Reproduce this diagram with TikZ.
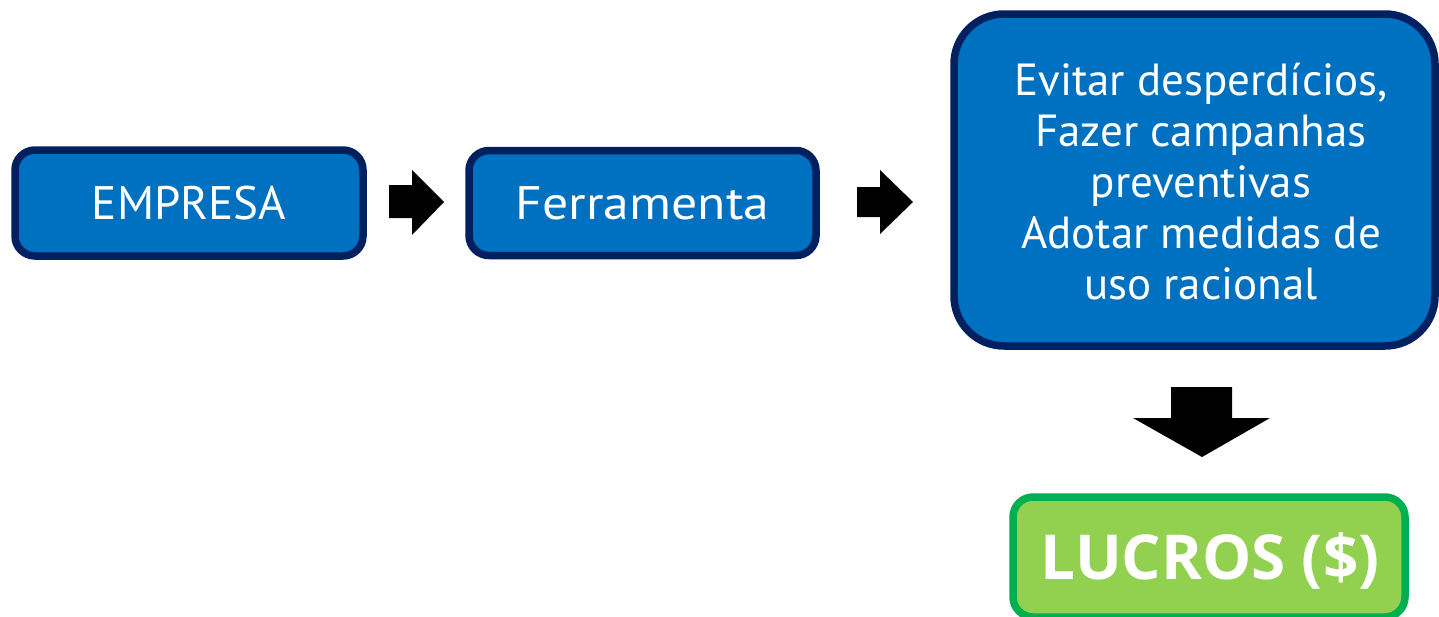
\documentclass[tikz,border=0pt]{standalone}
\usepackage{fontspec}
\setmainfont{PT Sans}
\newfontfamily\lucrosfont{Open Sans}
\begin{document}
\begin{tikzpicture}[x=1pt,y=-1pt,
  bluebox/.style={draw=navy,fill=blueA,line width=7.5pt,rounded corners=20pt,text=white,inner sep=0pt},
  greenbox/.style={draw=greenB,fill=greenA,line width=7.5pt,rounded corners=20pt,text=white,inner sep=0pt},
  blockarrow/.style={fill=black,draw=none}]
\definecolor{navy}{HTML}{002060}
\definecolor{blueA}{HTML}{0070C0}
\definecolor{greenA}{HTML}{92D050}
\definecolor{greenB}{HTML}{00B050}
\useasboundingbox (0,0) rectangle (1439,616);
\clip (0,0) rectangle (1439,616);
\node[bluebox,minimum width=348pt,minimum height=106pt,font=\fontsize{47}{52}\selectfont] (empresa) at (189,203) {EMPRESA};
\node[bluebox,minimum width=347pt,minimum height=105pt,font=\fontsize{47}{52}\selectfont] (ferr) at (642.5,203) {\scalebox{1.1}[1]{Ferramenta}};
\node[bluebox,rounded corners=50pt,minimum width=481pt,minimum height=332pt] (big) at (1194.5,180) {};
\node[text=white,align=center,font=\fontsize{45}{51}\selectfont] (bigtext) at (1201,182) {Evitar desperdícios,\\Fazer campanhas\\preventivas\\Adotar medidas de\\uso racional};
\node[greenbox,minimum width=392pt,minimum height=120pt] (lucros) at (1209,557) {};
\node[text=white,font=\lucrosfont\bfseries\fontsize{62}{70}\selectfont] (lucrostext) at (1210,561) {LUCROS (\$)};
% arrows
\fill[blockarrow] (389,185) -- (412,185) -- (412,170) -- (444,202) -- (412,235) -- (412,218) -- (389,218) -- cycle;
\fill[blockarrow] (857,187) -- (880,187) -- (880,170) -- (913,202) -- (880,234) -- (880,217) -- (857,217) -- cycle;
\fill[blockarrow] (1171,387) -- (1232,387) -- (1232,418) -- (1270,418) -- (1202,457) -- (1133,418) -- (1171,418) -- cycle;
\end{tikzpicture}
\end{document}
